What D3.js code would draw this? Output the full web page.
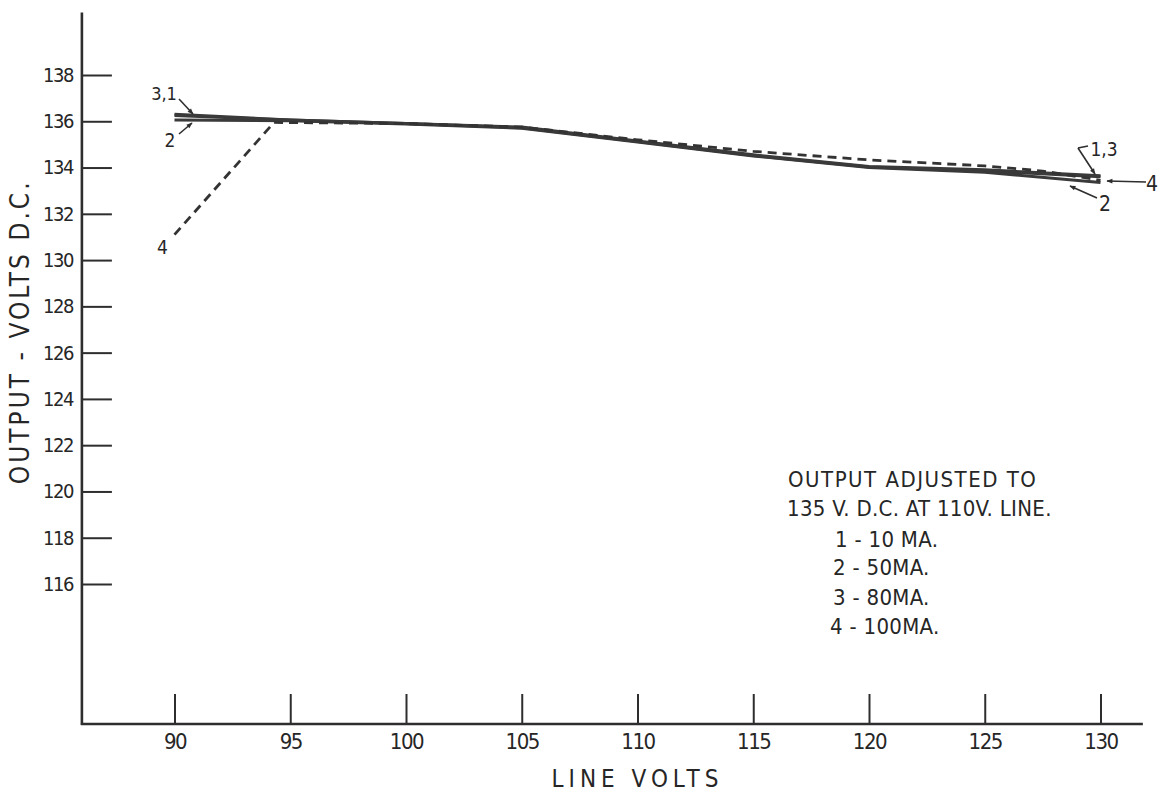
<!DOCTYPE html>
<html>
<head>
<meta charset="utf-8">
<script src="https://cdn.jsdelivr.net/npm/d3@7"></script>
<style>
  html, body { margin: 0; padding: 0; background: #fff; }
  svg { display: block; }
  text { font-family: "DejaVu Sans Condensed", "Liberation Sans Narrow", "DejaVu Sans", sans-serif; fill: #262626; }
</style>
</head>
<body>
<svg id="chart" width="1159" height="793"></svg>
<script>
// ---- data ----
const lineVolts = [90, 95, 100, 105, 110, 115, 120, 125, 130];
const series1_10mA = [136.30, 136.06, 135.90, 135.75, 135.15, 134.55, 134.05, 133.90, 133.65];
const series3_80mA = [136.25, 136.05, 135.90, 135.72, 135.12, 134.52, 134.02, 133.85, 133.60];
const series2_50mA = [136.05, 136.02, 135.88, 135.70, 135.10, 134.50, 134.00, 133.80, 133.35];
const lineVolts4 = [90, 94.3, 100, 105, 110, 115, 120, 125, 127.5, 130];
const series4_100mA = [131.10, 135.95, 135.90, 135.75, 135.20, 134.70, 134.33, 134.07, 133.85, 133.45];
const xTicks = [90, 95, 100, 105, 110, 115, 120, 125, 130];
const yTicks = [116, 118, 120, 122, 124, 126, 128, 130, 132, 134, 136, 138];
const legendLines = ["OUTPUT ADJUSTED TO", "135 V. D.C. AT 110V. LINE.", "1 - 10 MA.", "2 - 50MA.", "3 - 80MA.", "4 - 100MA."];

// ---- drawing ----
const svg = d3.select("#chart");
const ink = "#2e2e2e";
svg.append("rect").attr("width", 1159).attr("height", 793).attr("fill", "#fff");

const x = d3.scaleLinear().domain([90, 130]).range([174.5, 1100.5]);
const y = d3.scaleLinear().domain([116, 138]).range([584, 75]);
const axisX0 = x(86), axisX1 = x(131.83);
const axisYBottom = y(109.95), axisYTop = y(140.7);

const defs = svg.append("defs");
defs.append("marker").attr("id", "arr").attr("viewBox", "0 0 10 10")
  .attr("refX", 9).attr("refY", 5).attr("markerWidth", 7).attr("markerHeight", 6)
  .attr("orient", "auto").attr("markerUnits", "userSpaceOnUse")
  .append("path").attr("d", "M0,1 L10,5 L0,9 Z").attr("fill", ink);

// y axis
const yAxis = d3.axisLeft(y).tickValues(yTicks).tickSizeInner(-30).tickSizeOuter(0).tickPadding(9);
const gy = svg.append("g").attr("transform", `translate(${axisX0},0)`).call(yAxis);
gy.select(".domain").remove();
gy.selectAll(".tick line").attr("stroke", ink).attr("stroke-width", 2);
gy.selectAll(".tick text").attr("font-size", 20).attr("fill", "#262626").style("letter-spacing", "-1.5px");

// x axis
const xAxis = d3.axisBottom(x).tickValues(xTicks).tickSizeInner(-30).tickSizeOuter(0).tickPadding(9);
const gx = svg.append("g").attr("transform", `translate(0,${axisYBottom})`).call(xAxis);
gx.select(".domain").remove();
gx.selectAll(".tick line").attr("stroke", ink).attr("stroke-width", 2);
gx.selectAll(".tick text").attr("font-size", 22).attr("fill", "#262626").style("letter-spacing", "-1.5px");

// axis lines
svg.append("line").attr("x1", axisX0).attr("x2", axisX0).attr("y1", axisYTop).attr("y2", axisYBottom + 1)
  .attr("stroke", ink).attr("stroke-width", 2.6);
svg.append("line").attr("x1", axisX0 - 1).attr("x2", axisX1).attr("y1", axisYBottom).attr("y2", axisYBottom)
  .attr("stroke", ink).attr("stroke-width", 2.6);

// axis titles
svg.append("text").attr("transform", `translate(29,${y(126.9)}) rotate(-90)`)
  .attr("text-anchor", "middle").attr("font-size", 26).style("letter-spacing", "3px")
  .text("OUTPUT - VOLTS D.C.");
svg.append("text").attr("x", x(110)).attr("y", 787)
  .attr("text-anchor", "middle").attr("font-size", 24).style("letter-spacing", "5px")
  .text("LINE  VOLTS");

// series lines
const line = d3.line().x(d => x(d[0])).y(d => y(d[1]));
[series2_50mA, series3_80mA, series1_10mA].forEach(s => {
  svg.append("path").datum(lineVolts.map((v, i) => [v, s[i]]))
    .attr("d", line).attr("fill", "none").attr("stroke", "#3a3a3a")
    .attr("stroke-width", 3).attr("stroke-linejoin", "round");
});
svg.append("path").datum(lineVolts4.map((v, i) => [v, series4_100mA[i]]))
  .attr("d", line).attr("fill", "none").attr("stroke", "#333")
  .attr("stroke-width", 2.8).attr("stroke-dasharray", "9,6");

// annotations (pixel positions, mapped to data units)
const pX = p => 90 + (p - 174.5) / 23.15;
const pY = p => 138 - (p - 75) / 23.14;
function label(t, cx, cy, size) {
  svg.append("text").attr("x", cx).attr("y", cy).attr("text-anchor", "middle")
    .attr("dominant-baseline", "central").attr("font-size", size).text(t);
}
function arrow(x1, y1, x2, y2, head) {
  const l = svg.append("line").attr("x1", x1).attr("y1", y1).attr("x2", x2).attr("y2", y2)
    .attr("stroke", ink).attr("stroke-width", 1.6);
  if (head) l.attr("marker-end", "url(#arr)");
}
// left
label("3,1", x(pX(164)), y(pY(94)), 18);
arrow(x(pX(179)), y(pY(99)), x(pX(193)), y(pY(114)), true);
label("2", x(pX(170)), y(pY(140)), 19);
arrow(x(pX(179)), y(pY(134)), x(pX(192)), y(pY(123)), true);
label("4", x(pX(162.5)), y(pY(247)), 19);
// right
label("1,3", x(pX(1104)), y(pY(149)), 19);
arrow(x(pX(1088)), y(pY(146)), x(pX(1078)), y(pY(148)), false);
arrow(x(pX(1078)), y(pY(148)), x(pX(1095)), y(pY(174)), true);
label("2", x(pX(1105)), y(pY(204)), 21);
arrow(x(pX(1097)), y(pY(198)), x(pX(1070)), y(pY(186)), true);
label("4", x(pX(1152)), y(pY(184)), 21);
arrow(x(pX(1146)), y(pY(182)), x(pX(1107)), y(pY(181)), true);

// note / legend
const noteX = [788, 787, 835, 833, 833, 830];
const noteY = [480, 509, 540, 568, 598, 627];
legendLines.forEach((t, i) => {
  svg.append("text").attr("x", x(pX(noteX[i]))).attr("y", y(pY(noteY[i])))
    .attr("dominant-baseline", "central").attr("font-size", 22)
    .style("letter-spacing", i === 0 ? "1.5px" : "0.3px").text(t);
});
</script>
</body>
</html>
